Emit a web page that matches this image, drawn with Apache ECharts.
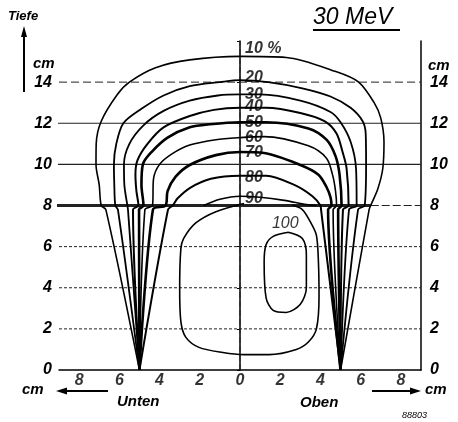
<!DOCTYPE html>
<html>
<head>
<meta charset="utf-8">
<script src="https://cdn.jsdelivr.net/npm/echarts@6/dist/echarts.min.js"></script>
<style>
  html, body { margin: 0; padding: 0; background: #fff; }
  #chart { width: 458px; height: 422px; }
</style>
</head>
<body>
<div id="chart"></div>
<script>
// isodose curves, [x cm, depth cm]; left leg -> arch -> right leg
var iso10 = [[-5,0],[-6.67,7.8],[-6.9,8],[-7,9],[-7.16,10],[-7.15,11],[-6.9,12.1],[-6.1,13.4],[-5.5,14],[-4.2,14.7],[-2.5,15.08],[0,15.25],[2.3,15.2],[4.8,14.5],[5.9,14],[6.67,13],[7,12.25],[7.16,11.1],[7.1,9.8],[6.85,8.8],[6.5,8],[6.42,7.8],[5,0]];
var iso20 = [[-5,0],[-6.07,7.8],[-6.2,8],[-6.25,9],[-6.27,10],[-6.15,11],[-5.8,12],[-4.9,12.7],[-3.8,13.35],[-2.5,13.8],[-1,14],[0,14.1],[1.4,14],[3.1,13.7],[4.5,13.3],[5.5,12.75],[6.1,12.1],[6.25,11.5],[6.27,10],[6.2,8],[5.87,7.8],[5,0]];
var iso30 = [[-5,0],[-5.57,7.8],[-5.6,8],[-5.75,9],[-5.77,10],[-5.5,11],[-4.8,11.9],[-3.8,12.6],[-2.5,13.1],[-1.1,13.35],[0,13.4],[1,13.4],[3,13.1],[4.5,12.55],[5,12.05],[5.5,11.1],[5.77,9.8],[5.8,8],[5.42,7.8],[5,0]];
var iso40 = [[-5,0],[-5.32,7.8],[-5.05,8],[-5.15,8.7],[-5.2,9.5],[-5.1,10.2],[-4.6,11],[-3.8,11.8],[-2.5,12.35],[-1.3,12.65],[0,12.75],[1.3,12.75],[3,12.5],[4.2,12.1],[4.8,11.5],[5.1,10.6],[5.3,9.8],[5.4,8],[5.12,7.8],[5,0]];
var iso50 = [[-5,0],[-5.02,7.8],[-4.8,8],[-4.9,9],[-4.83,10],[-4.4,10.6],[-3.6,11.3],[-2.5,11.8],[-1.5,11.95],[0,12.05],[1.3,12.05],[3.4,11.75],[4.3,11.2],[4.75,10.4],[4.95,9.5],[5.05,8],[4.88,7.8],[5,0]];
var iso60 = [[-5,0],[-4.73,7.8],[-4.35,8],[-4.3,9.3],[-4,10],[-3.4,10.5],[-2.5,10.94],[-1.2,11.2],[0,11.3],[1.2,11.35],[3.4,10.9],[4.3,10.3],[4.6,9.5],[4.75,8.7],[4.8,8],[4.63,7.8],[5,0]];
var iso70 = [[-5,0],[-4.33,7.8],[-3.7,8],[-3.6,8.7],[-3.2,9.4],[-2.5,9.97],[-1.2,10.45],[0,10.6],[1.2,10.55],[3,9.97],[3.9,9.5],[4.3,8.9],[4.5,8.4],[4.55,8],[4.38,7.8],[5,0]];
var iso80 = [[-5,0],[-3.58,7.8],[-3.35,8],[-3.1,8.35],[-2.5,8.85],[-1.45,9.3],[0,9.45],[1.3,9.45],[2.7,9],[3.6,8.45],[4,8],[4.03,7.8],[5,0]];
var iso90 = [[-1.8,8],[-1,8.3],[0,8.45],[1,8.4],[2.2,8.25],[3.3,8.05],[3.8,8]];
var iso90Low = [[0.2,8.1],[-1.2,7.7],[-2.2,7.15],[-2.8,6.4],[-2.94,5.9],[-3,4],[-2.94,2.35],[-2.7,1.6],[-2.04,1.1],[-0.85,0.85],[0.2,0.75],[1.45,0.75],[2.8,1],[3.4,1.36],[3.8,2],[3.93,3.6],[3.9,5.25],[3.8,6.55],[3.5,7.2],[3.1,7.8],[2.6,8.02]];
var iso100 = [[2.4,6.7],[3.1,6.4],[3.3,5.6],[3.3,4],[3,3.2],[2.3,2.8],[1.65,2.9],[1.3,3.5],[1.2,5.25],[1.3,6.1],[1.65,6.5],[2.4,6.7]];

var isoLabels = ['10 %', '20', '30', '40', '50', '60', '70', '80', '90'];
var isoLabelDepth = [15.65, 14.2, 13.37, 12.8, 12.05, 11.3, 10.55, 9.35, 8.35];
var label100 = [2.25, 7.1];

var xTicks = [-8, -6, -4, -2, 0, 2, 4, 6, 8];
var gridDotted = [2, 4, 6];
var gridSolid = [10, 12];
var gridDashed = [14];
var gridThick = [8];

var FONT = 'Liberation Sans';
var chart = echarts.init(document.getElementById('chart'));

function hLine(y, x0, x1, width, type) {
  return {
    type: 'line', data: [[x0, y], [x1, y]], symbol: 'none', silent: true, clip: false,
    lineStyle: { color: '#222', width: width, type: type }
  };
}

var series = [];
gridDotted.forEach(function (y) { series.push(hLine(y, -9, 9, 1, [3, 2])); });
gridSolid.forEach(function (y) { series.push(hLine(y, -9.2, 9, 1.2, 'solid')); });
gridDashed.forEach(function (y) { series.push(hLine(y, -9, 9, 1, [8, 4])); });
gridThick.forEach(function (y) {
  series.push(hLine(y, -10.1, 6.5, 3, 'solid'));
  series.push(hLine(y, 6.5, 9, 1, [8, 3]));
});
series.push({
  type: 'line', data: [[0, 0], [0, 16]], symbol: 'none', silent: true,
  lineStyle: { color: '#222', width: 1, type: [6, 3] }
});

function curve(data, width) {
  return {
    type: 'line', data: data, symbol: 'none', smooth: 0.3, silent: true,
    lineStyle: { color: '#000', width: width }
  };
}
series.push(curve(iso10, 1.6));
series.push(curve(iso20, 1.8));
series.push(curve(iso30, 1.8));
series.push(curve(iso40, 2));
series.push(curve(iso50, 2.6));
series.push(curve(iso60, 1.6));
series.push(curve(iso70, 2.6));
series.push(curve(iso80, 2));
series.push(curve(iso90, 1.6));
series.push(curve(iso90Low, 1.6));
series.push(curve(iso100, 1.6));

// curve labels
series.push({
  type: 'scatter', symbolSize: 0, silent: true,
  data: isoLabels.map(function (t, i) { return { value: [0.2, isoLabelDepth[i]], name: t }; }),
  label: {
    show: true, position: 'right', distance: 0, formatter: '{b}',
    fontFamily: FONT, fontStyle: 'italic', fontWeight: 'bold', fontSize: 16, color: '#000',
    backgroundColor: '#fff', padding: [0, 1]
  }
});
series.push({
  type: 'scatter', symbolSize: 0, silent: true,
  data: [{ value: label100, name: '100' }],
  label: {
    show: true, position: 'inside', formatter: '{b}',
    fontFamily: FONT, fontStyle: 'italic', fontSize: 16, color: '#000'
  }
});
// x tick labels (distance from centre, both sides)
series.push({
  type: 'scatter', symbolSize: 0, silent: true,
  data: xTicks.map(function (v) { return [v, 0]; }),
  label: {
    show: true, position: 'bottom', distance: 3,
    formatter: function (p) { return Math.abs(p.value[0]); },
    fontFamily: FONT, fontStyle: 'italic', fontWeight: 'bold', fontSize: 16, color: '#000'
  }
});

var yLabel = {
  fontFamily: FONT, fontStyle: 'italic', fontWeight: 'bold', fontSize: 16, color: '#000',
  formatter: function (v) { return v === 16 ? '' : v; }
};

var txt = function (x, y, s, size, align) {
  return { type: 'text', left: x, top: y, style: {
    text: s, fontFamily: FONT, fontStyle: 'italic', fontWeight: 'bold',
    fontSize: size, fill: '#000', textAlign: align || 'left' } };
};

chart.setOption({
  animation: false,
  grid: { left: 59, right: 37, top: 41, bottom: 52 },
  xAxis: {
    type: 'value', min: -9, max: 9,
    axisLine: { show: true, onZero: false, lineStyle: { color: '#000', width: 1.5 } },
    axisTick: { show: false }, axisLabel: { show: false }, splitLine: { show: false }
  },
  yAxis: [{
    type: 'value', min: 0, max: 16, interval: 2, position: 'left',
    axisLine: { show: true, lineStyle: { color: '#000', width: 1.5 } },
    axisTick: { show: true, length: 3, lineStyle: { color: '#000' } },
    axisLabel: Object.assign({ margin: 7 }, yLabel),
    splitLine: { show: false }
  }, {
    type: 'value', min: 0, max: 16, interval: 2, position: 'right',
    axisLine: { show: true, lineStyle: { color: '#000', width: 1.5 } },
    axisTick: { show: false },
    axisLabel: Object.assign({ margin: 9 }, yLabel),
    splitLine: { show: false }
  }],
  series: series,
  graphic: [
    txt(8, 10, 'Tiefe', 13),
    { type: 'line', shape: { x1: 24, y1: 92, x2: 24, y2: 34 }, style: { stroke: '#000', lineWidth: 2 } },
    { type: 'polygon', shape: { points: [[24, 26], [21, 37], [27, 37]] }, style: { fill: '#000' } },
    txt(33, 56, 'cm', 15),
    txt(428, 58, 'cm', 15),
    { type: 'text', left: 313, top: 6, style: { text: '30 MeV', fontFamily: FONT, fontStyle: 'italic', fontSize: 23, fill: '#000' } },
    { type: 'line', shape: { x1: 313, y1: 30, x2: 400, y2: 30 }, style: { stroke: '#000', lineWidth: 2 } },
    txt(22, 382, 'cm', 15),
    { type: 'line', shape: { x1: 108, y1: 391, x2: 64, y2: 391 }, style: { stroke: '#000', lineWidth: 2 } },
    { type: 'polygon', shape: { points: [[56, 391], [67, 387.5], [67, 394.5]] }, style: { fill: '#000' } },
    txt(117, 394, 'Unten', 15),
    { type: 'line', shape: { x1: 372, y1: 391, x2: 412, y2: 391 }, style: { stroke: '#000', lineWidth: 2 } },
    { type: 'polygon', shape: { points: [[421, 391], [410, 387.5], [410, 394.5]] }, style: { fill: '#000' } },
    txt(425, 382, 'cm', 15),
    txt(300, 395, 'Oben', 15),
    { type: 'text', left: 402, top: 411, style: { text: '88803', fontFamily: FONT, fontStyle: 'italic', fontSize: 9, fill: '#000' } }
  ]
});
</script>
</body>
</html>
